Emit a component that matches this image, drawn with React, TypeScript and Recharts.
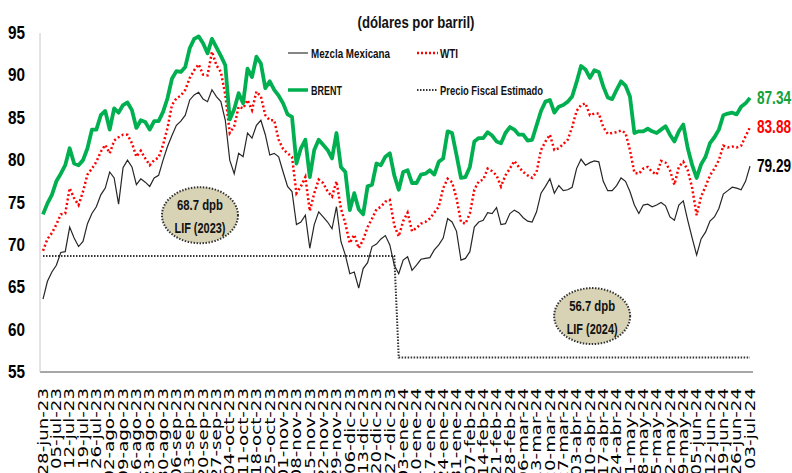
import React from "react";
import { LineChart, Line, XAxis, YAxis, ReferenceDot } from "recharts";

// weekly tick labels (every 3rd point)
const weekLabels = [
  "28-jun-23", "05-jul-23", "12-jul-23", "19-jul-23", "26-jul-23", "02-ago-23", "09-ago-23", "16-ago-23",
  "23-ago-23", "30-ago-23", "06-sep-23", "13-sep-23", "20-sep-23", "27-sep-23", "04-oct-23", "11-oct-23",
  "18-oct-23", "25-oct-23", "01-nov-23", "08-nov-23", "15-nov-23", "22-nov-23", "29-nov-23", "06-dic-23",
  "13-dic-23", "20-dic-23", "27-dic-23", "03-ene-24", "10-ene-24", "17-ene-24", "24-ene-24", "31-ene-24",
  "07-feb-24", "14-feb-24", "21-feb-24", "28-feb-24", "06-mar-24", "13-mar-24", "20-mar-24", "27-mar-24",
  "03-abr-24", "10-abr-24", "17-abr-24", "24-abr-24", "01-may-24", "08-may-24", "15-may-24", "22-may-24",
  "29-may-24", "05-jun-24", "12-jun-24", "19-jun-24", "26-jun-24", "03-jul-24",
];
const pointsPerWeek = 3;

const brent = [
  73.6, 74.9, 75.9, 77.5, 78.4, 79.4, 81.4, 79.6, 79.4, 80.0,
  81.4, 83.6, 83.6, 85.3, 85.8, 83.6, 86.1, 85.6, 86.5, 86.8,
  85.9, 83.8, 84.7, 84.5, 83.6, 84.6, 84.6, 85.7, 87.3, 89.6,
  90.5, 90.4, 91.0, 93.2, 94.3, 94.6, 93.8, 92.6, 94.3, 93.3,
  92.3, 91.2, 84.8, 86.0, 87.9, 86.7, 90.8, 89.8, 92.2, 91.4,
  88.5, 89.3, 88.3, 87.6, 86.7, 85.4, 85.1, 79.6, 81.4, 82.4,
  78.0, 81.2, 82.4, 81.8, 81.2, 80.2, 83.2, 79.2, 78.6, 74.1,
  76.1, 74.2, 73.6, 76.9, 77.1, 79.6, 79.4, 80.4, 80.8, 78.2,
  76.5, 78.6, 78.8, 77.3, 77.3, 78.3, 78.4, 78.8, 78.3, 79.8,
  80.2, 83.4, 83.2, 80.6, 77.9, 78.0, 79.2, 82.2, 82.6, 82.6,
  83.3, 82.9, 82.2, 82.0, 83.2, 83.9, 83.6, 83.0, 83.0, 82.3,
  82.4, 84.1, 85.8, 86.9, 87.1, 85.6, 86.3, 86.5, 86.9, 87.5,
  89.2, 91.1, 90.7, 89.7, 90.6, 90.4, 88.7, 87.4, 87.2, 88.3,
  89.3, 88.8, 87.5, 83.2, 83.4, 83.4, 83.7, 83.4, 83.2, 83.6,
  84.0, 83.0, 82.2, 83.4, 84.2, 81.4, 79.4, 77.9, 79.5, 80.4,
  82.0, 82.7, 83.6, 85.3, 85.5, 85.6, 85.4, 86.3, 86.7, 87.34,
];

const wti = [
  69.3, 70.7, 71.4, 72.4, 73.6, 73.7, 76.7, 75.5, 74.7, 76.3,
  78.3, 79.0, 79.8, 81.0, 81.8, 80.8, 82.3, 82.7, 83.0, 83.0,
  82.0, 80.4, 81.1, 80.2, 79.4, 80.0, 80.3, 81.8, 83.8, 86.5,
  87.3, 87.6, 88.3, 89.7, 90.6, 91.3, 90.1, 90.0, 92.8, 91.2,
  90.4, 87.7, 83.2, 84.0, 86.3, 86.1, 87.1, 85.9, 88.1, 87.5,
  85.3, 84.7, 84.7, 82.4, 81.3, 80.8, 80.4, 76.1, 76.9, 78.0,
  74.0, 76.1, 77.7, 77.3, 76.3, 75.7, 77.5, 74.3, 72.5, 70.2,
  71.2, 69.6, 70.6, 72.1, 73.1, 74.2, 74.5, 75.1, 75.3, 72.3,
  71.0, 72.8, 73.8, 71.6, 72.0, 72.5, 72.7, 73.1, 73.8, 74.5,
  76.7, 77.8, 77.4, 75.5, 72.7, 72.5, 73.7, 76.5, 77.5, 77.7,
  79.0, 78.7, 78.2, 76.9, 78.2, 79.0, 79.9, 79.2, 78.6, 78.2,
  77.9, 78.6, 81.2, 82.2, 83.0, 81.2, 81.4, 81.9, 82.4, 83.9,
  85.8, 86.5, 86.7, 85.3, 85.5, 85.5, 83.9, 83.1, 83.2, 83.3,
  83.5, 83.2, 81.2, 78.5, 78.4, 79.0, 79.2, 78.6, 78.3, 79.9,
  79.7, 78.8, 77.1, 79.2, 79.8, 78.8, 76.7, 73.5, 75.7, 76.9,
  78.2, 79.0, 80.0, 81.7, 81.5, 81.6, 81.5, 81.7, 82.8, 83.88,
];

const mezcla = [
  63.6, 65.7, 66.8, 67.6, 69.1, 69.2, 72.1, 70.8, 69.8, 70.4,
  72.5, 73.7, 74.5, 75.9, 76.7, 78.6, 77.9, 74.8, 79.1, 80.0,
  79.2, 77.1, 77.8, 77.4, 76.9, 77.9, 78.2, 80.0, 81.6, 82.9,
  84.1, 84.6, 85.3, 87.1, 87.7, 88.0, 87.2, 86.9, 88.3, 87.5,
  86.9, 84.7, 80.0, 78.4, 80.8, 80.4, 83.2, 82.6, 84.1, 84.7,
  83.0, 80.6, 80.8, 80.4, 78.6, 76.9, 76.3, 72.4, 72.7, 73.5,
  69.6, 72.4, 73.9, 73.3, 72.7, 71.9, 74.5, 70.4, 68.8, 66.6,
  66.8, 64.9, 67.2, 67.9, 69.8, 70.1, 70.7, 71.1, 70.0, 67.6,
  66.6, 68.2, 68.6, 67.0, 67.6, 68.3, 68.4, 68.5, 69.4, 70.0,
  70.8, 73.1, 72.7, 71.6, 68.2, 68.4, 69.2, 72.1, 72.7, 72.9,
  73.8, 73.7, 74.4, 72.4, 72.5, 73.7, 74.1, 73.8, 73.2, 72.8,
  72.7, 73.9, 76.1, 76.9, 77.8, 76.1, 77.0, 76.4, 76.5, 76.8,
  79.0, 80.1, 79.4, 79.7, 79.9, 79.8, 77.5, 76.4, 76.4, 77.0,
  77.9, 77.5, 76.3, 74.7, 73.7, 74.7, 74.8, 74.5, 74.7, 75.0,
  74.6, 73.3, 72.9, 74.7, 75.2, 72.9, 70.8, 68.8, 70.7, 71.5,
  72.8, 73.3, 74.3, 76.0, 76.4, 76.8, 76.7, 76.5, 77.5, 79.29,
];

// precio fiscal: LIF 2023 until end of december, LIF 2024 afterwards
const fiscalLevels = [68.7, 56.7];
const fiscalChangeAt = 80;

const bubbles = [
  { i: 35.3, v: 73.5, line1: "68.7 dpb", line2: "LIF (2023)" },
  { i: 123.5, v: 61.6, line1: "56.7 dpb", line2: "LIF (2024)" },
];

const yTicks = [55, 60, 65, 70, 75, 80, 85, 90, 95];

const data = mezcla.map((m, i) => ({
  i,
  mezcla: m,
  wti: wti[i],
  brent: brent[i],
  fiscal: i < fiscalChangeAt ? fiscalLevels[0] : fiscalLevels[1],
}));
const last = data.length - 1;
const xTicks = weekLabels.map((_, w) => w * pointsPerWeek);

const sans = "'Liberation Sans', Arial, sans-serif";
const squeeze = { lengthAdjust: "spacingAndGlyphs" as const };

const renderXTick = (props: any) => {
  const { x, y, payload } = props;
  const ty = y + 16;
  return (
    <text
      x={0}
      y={0}
      transform={`translate(${x} ${ty}) rotate(-90) scale(1.3 1)`}
      textAnchor="end"
      dominantBaseline="central"
      fontSize={14}
      fontFamily="'DejaVu Sans', sans-serif"
      fill="#000"
    >
      {weekLabels[Math.round(payload.value / pointsPerWeek)]}
    </text>
  );
};

const renderYTick = (props: any) => {
  const { x, y, payload } = props;
  return (
    <text x={x - 15} y={y} textAnchor="end" dominantBaseline="central" fontSize={18} fontWeight="bold" fontFamily={sans} fill="#000" textLength={17} {...squeeze}>
      {payload.value}
    </text>
  );
};

const endLabel = (color: string) => (props: any) => {
  if (props.index !== last) return <g key={props.index} />;
  return (
    <text
      key={props.index}
      x={props.x + 7}
      y={props.y}
      dominantBaseline="central"
      fill={color}
      fontSize={18}
      fontWeight="bold"
      fontFamily={sans}
      textLength={34}
      {...squeeze}
    >
      {Number(props.value).toFixed(2)}
    </text>
  );
};

const bubbleShape = (b: (typeof bubbles)[number]) => (props: any) => {
  const { cx, cy } = props;
  return (
    <g>
      <ellipse cx={cx} cy={cy} rx={38} ry={28} fill="#d8d3b5" stroke="#333" strokeWidth={2} strokeDasharray="1.5 1.5" />
      <text x={cx} y={cy - 11} textAnchor="middle" dominantBaseline="central" fontSize={15} fontWeight="bold" fontFamily={sans} fill="#111" textLength={46} {...squeeze}>
        {b.line1}
      </text>
      <text x={cx} y={cy + 12} textAnchor="middle" dominantBaseline="central" fontSize={15} fontWeight="bold" fontFamily={sans} fill="#111" textLength={51} {...squeeze}>
        {b.line2}
      </text>
    </g>
  );
};

function Overlay() {
  const txt = { fontSize: 13, fontWeight: "bold" as const, fontFamily: sans, fill: "#111", dominantBaseline: "central" as const, ...squeeze };
  return (
    <svg width={792} height={110} style={{ position: "absolute", left: 0, top: 0, pointerEvents: "none" }}>
      <text x={416} y={22} textAnchor="middle" dominantBaseline="central" fontSize={17} fontWeight="bold" fontFamily={sans} fill="#111" textLength={117} {...squeeze}>
        (dólares por barril)
      </text>
      <line x1={288} x2={308} y1={53} y2={53} stroke="#333" strokeWidth={1.2} />
      <text x={311} y={53} {...txt} textLength={79}>Mezcla Mexicana</text>
      <line x1={417} x2={438} y1={53} y2={53} stroke="#ff0000" strokeWidth={2.5} strokeDasharray="2 2" />
      <text x={440} y={53} {...txt} textLength={18}>WTI</text>
      <line x1={288} x2={308} y1={90} y2={90} stroke="#00b050" strokeWidth={3.5} />
      <text x={311} y={90} {...txt} textLength={31}>BRENT</text>
      <line x1={417} x2={438} y1={90} y2={90} stroke="#333" strokeWidth={2} strokeDasharray="1.5 1.5" />
      <text x={440} y={90} {...txt} textLength={103}>Precio Fiscal Estimado</text>
    </svg>
  );
}

export default function App() {
  return (
    <div style={{ position: "absolute", left: 0, top: 0, width: 792, height: 473, background: "#fff" }}>
      <LineChart width={792} height={473} data={data} margin={{ top: 33, right: 39, bottom: 0, left: 0 }}>
        <XAxis
          dataKey="i"
          type="number"
          domain={[0, last]}
          ticks={xTicks}
          interval={0}
          tick={renderXTick}
          tickLine={false}
          tickSize={0}
          tickMargin={0}
          axisLine={{ stroke: "#a6a6a6", strokeWidth: 2 }}
          height={101}
          padding={{ left: 3, right: 3 }}
        />
        <YAxis
          domain={[55, 95]}
          ticks={yTicks}
          interval={0}
          tick={renderYTick}
          tickLine={false}
          tickSize={0}
          tickMargin={0}
          axisLine={{ stroke: "#c8c8c8", strokeWidth: 1 }}
          width={40}
        />
        <Line type="linear" dataKey="fiscal" stroke="#333" strokeWidth={2} strokeDasharray="1.5 1.5" dot={false} isAnimationActive={false} />
        <Line type="linear" dataKey="mezcla" stroke="#262626" strokeWidth={1.2} dot={false} isAnimationActive={false} label={endLabel("#000")} />
        <Line type="linear" dataKey="wti" stroke="#ff0000" strokeWidth={2.5} strokeDasharray="2 2.5" dot={false} isAnimationActive={false} label={endLabel("#ff0000")} />
        <Line type="linear" dataKey="brent" stroke="#00b050" strokeWidth={3.8} strokeLinejoin="round" dot={false} isAnimationActive={false} label={endLabel("#13a23a")} />
        {bubbles.map((b) => (
          <ReferenceDot key={b.line2} x={b.i} y={b.v} r={30} ifOverflow="visible" shape={bubbleShape(b)} />
        ))}
      </LineChart>
      <Overlay />
    </div>
  );
}
